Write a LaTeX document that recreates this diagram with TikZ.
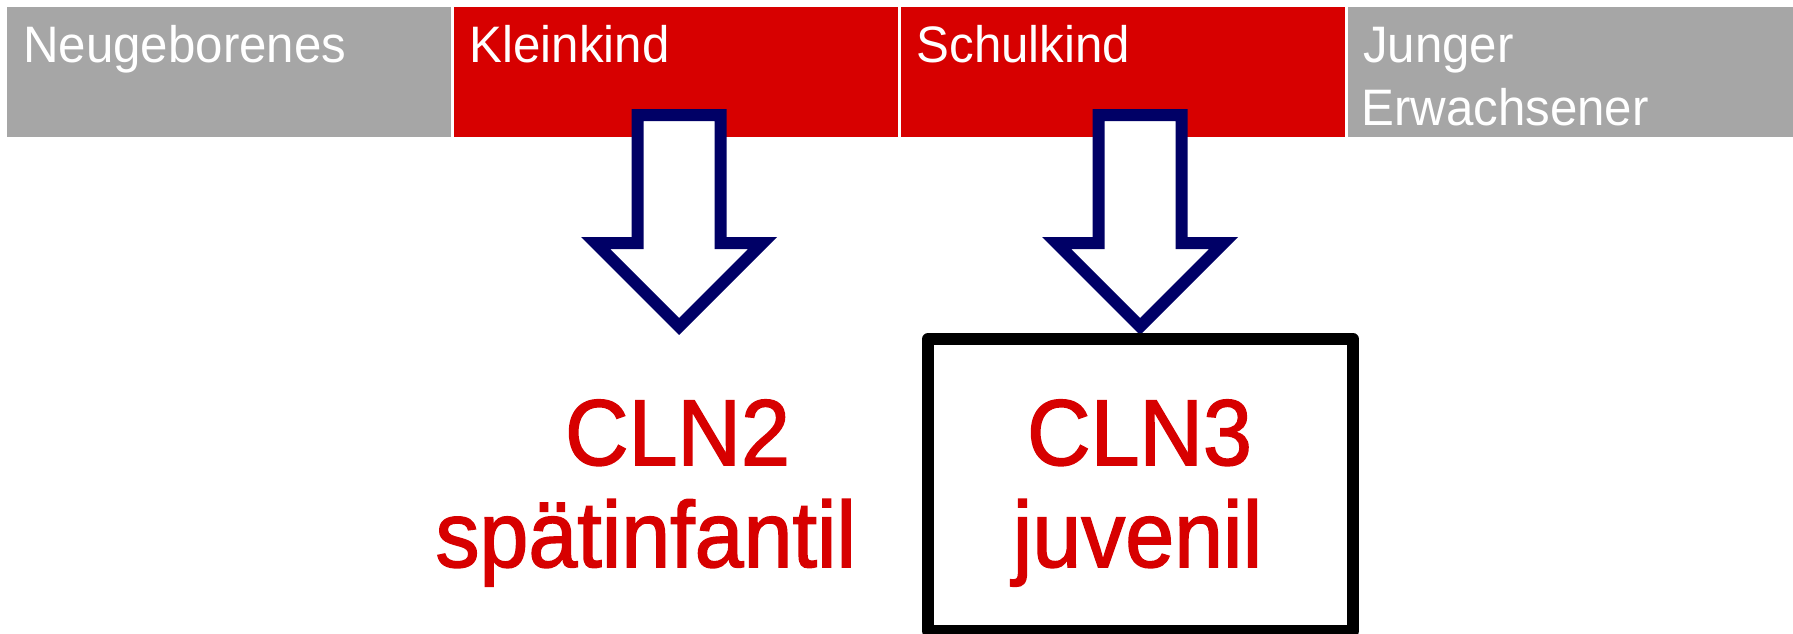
\documentclass[tikz,border=0pt]{standalone}
\usepackage{fontspec}
\setmainfont{Liberation Sans}[FakeStretch=0.96]
\newfontfamily\bigfont{Liberation Sans}[FakeStretch=0.94,FakeBold=1.6]
\definecolor{barred}{RGB}{215,0,0}
\definecolor{bargray}{RGB}{166,166,166}
\definecolor{navyline}{RGB}{0,0,102}
\tikzset{
  bar/.style={inner sep=0pt, outer sep=0pt, draw=none, anchor=north west},
  barlabel/.style={inner sep=0pt, anchor=base west, text=white, font=\fontsize{51.3}{60}\selectfont},
  biglabel/.style={inner sep=0pt, anchor=base, text=barred, font=\bigfont\fontsize{93.6}{100}\selectfont},
  blockarrow/.style={draw=navyline, fill=white, line width=12pt, miter limit=10, line join=miter},
  outcome/.style={draw=black, line width=12pt, line join=round}
}
\begin{document}
\begin{tikzpicture}[x=1pt,y=-1pt]
\useasboundingbox (0,0) rectangle (1793,634);
% age bars
\node[bar, fill=bargray, minimum width=444pt, minimum height=129.5pt] (b1) at (7,7.3) {};
\node[bar, fill=barred, minimum width=444.5pt, minimum height=129.5pt] (b2) at (453.5,7.3) {};
\node[bar, fill=barred, minimum width=444pt, minimum height=129.5pt] (b3) at (900.5,7.3) {};
\node[bar, fill=bargray, minimum width=446pt, minimum height=129.5pt] (b4) at (1347.5,7.3) {};
\node[barlabel] (l1) at (23,63) {Neugeborenes};
\node[barlabel] (l2) at (469.5,63) {Kleinkind};
\node[barlabel] (l3) at (916.5,63) {Schulkind};
\node[barlabel] (l4a) at (1363,63) {Junger};
\node[barlabel] (l4b) at (1361,125) {Erwachsener};
% block arrows
\foreach \c/\n in {679.2/a1,1140.2/a2}{
  \draw[blockarrow] (\c-41.5,115) -- (\c+41.5,115) -- (\c+41.5,243) -- (\c+83.5,243)
     -- (\c,326.5) -- (\c-83.5,243) -- (\c-41.5,243) -- cycle;
  \coordinate (\n) at (\c,326.5);
}
% outcome box
\draw[outcome] (928,339) rectangle (1353,631);
\coordinate (boxtop) at (1140.2,339);
% labels
\node[biglabel] (cln2) at (677.5,465) {CLN2};
\node[biglabel] (spaet) at (645.8,567) {spätinfantil};
\node[biglabel] (cln3) at (1139.5,465) {CLN3};
\node[biglabel] (juv) at (1137.5,567) {juvenil};
\end{tikzpicture}
\end{document}
